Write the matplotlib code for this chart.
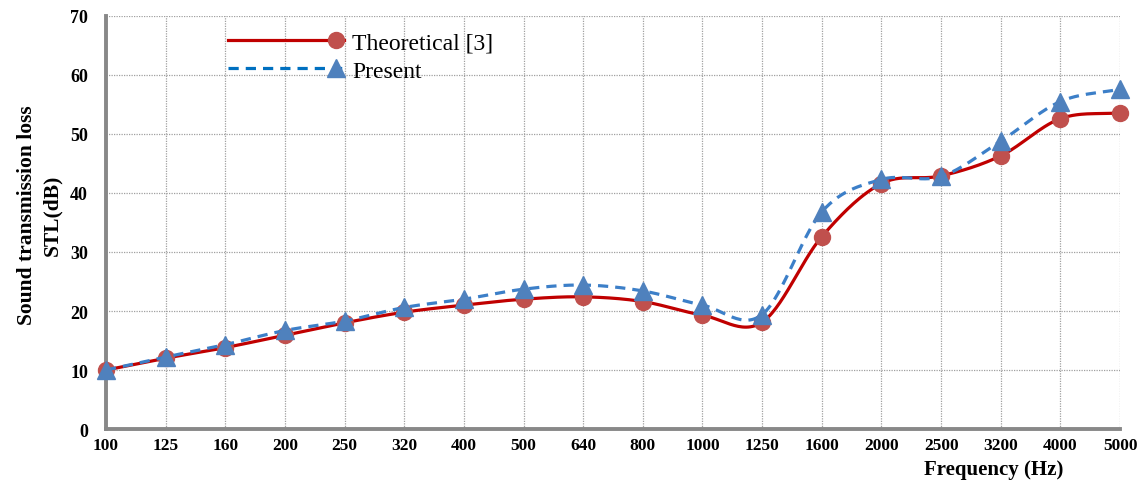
import numpy as np
import matplotlib
matplotlib.use("Agg")
import matplotlib.pyplot as plt
from matplotlib.legend_handler import HandlerLine2D

freq_labels = ["100", "125", "160", "200", "250", "320", "400", "500", "640",
               "800", "1000", "1250", "1600", "2000", "2500", "3200", "4000", "5000"]
theoretical = [10.0, 12.0, 13.8, 15.9, 18.0, 19.8, 21.0, 22.0, 22.4,
               21.6, 19.3, 18.1, 32.6, 41.6, 42.9, 46.3, 52.6, 53.6]
present = [10.0, 12.2, 14.3, 16.7, 18.3, 20.6, 22.0, 23.7, 24.4,
           23.4, 21.0, 19.4, 36.8, 42.3, 42.8, 48.8, 55.5, 57.6]

plt.rcParams['font.family'] = ['Liberation Serif', 'DejaVu Serif']


def smooth(x, y, n=30, tension=0.5):
    """Catmull-Rom style smoothing through the points (like Excel smoothed lines)."""
    x = np.asarray(x, float)
    y = np.asarray(y, float)
    px = np.concatenate([[2 * x[0] - x[1]], x, [2 * x[-1] - x[-2]]])
    py = np.concatenate([[2 * y[0] - y[1]], y, [2 * y[-1] - y[-2]]])
    xs, ys = [], []
    for i in range(1, len(px) - 2):
        p0, p1, p2, p3 = (np.array([px[j], py[j]]) for j in range(i - 1, i + 3))
        m1 = tension * (p2 - p0)
        m2 = tension * (p3 - p1)
        t = np.linspace(0, 1, n, endpoint=(i == len(px) - 3))
        h00 = 2 * t**3 - 3 * t**2 + 1
        h10 = t**3 - 2 * t**2 + t
        h01 = -2 * t**3 + 3 * t**2
        h11 = t**3 - t**2
        pts = (np.outer(h00, p1) + np.outer(h10, m1) + np.outer(h01, p2) + np.outer(h11, m2))
        xs.append(pts[:, 0])
        ys.append(pts[:, 1])
    return np.concatenate(xs), np.concatenate(ys)


class EndMarkerHandler(HandlerLine2D):
    def get_xdata(self, legend, xdescent, ydescent, width, height, fontsize):
        xdata = np.array([-xdescent, -xdescent + width * 0.93, -xdescent + width])
        return xdata, xdata

    def create_artists(self, *args, **kwargs):
        artists = super().create_artists(*args, **kwargs)
        for a in artists:
            a.set_markevery([1])
        return artists


fig = plt.figure(figsize=(11.47, 4.81), dpi=100)
ax = fig.add_axes([0.0924, 0.106, 0.8841, 0.8587])

x = np.arange(len(freq_labels))

red_line = "#C00000"
red_mark = "#C0504D"
blue_line = "#3C7FC8"
blue_mark = "#4F81BD"

sx, sy = smooth(x, theoretical)
ax.plot(sx, sy, color=red_line, lw=2.3, zorder=3)
ax.plot(x, theoretical, ls="none", marker="o", ms=11.5, color=red_mark,
        mec=red_mark, zorder=4, clip_on=False)

px_, py_ = smooth(x, present)
ax.plot(px_, py_, color=blue_line, lw=2.3, ls=(0, (3.2, 2.2)), zorder=5)
ax.plot(x, present, ls="none", marker="^", ms=12.5, color=blue_mark,
        mec=blue_mark, zorder=6, clip_on=False)

# legend proxies
h1, = ax.plot([], [], color=red_line, lw=2.3, marker="o", ms=11.5,
              mfc=red_mark, mec=red_mark)
h2, = ax.plot([], [], color="#0070C0", lw=2.3, ls=(0, (3.2, 2.2)), marker="^", ms=12.5,
              mfc=blue_mark, mec=blue_mark)
leg = ax.legend([h1, h2], ["Theoretical [3]", "Present"],
                handler_map={h1: EndMarkerHandler(numpoints=2), h2: EndMarkerHandler(numpoints=2)},
                loc="upper left", bbox_to_anchor=(0.111, 0.985), frameon=False,
                fontsize=17, handlelength=4.9, handletextpad=0.35,
                labelspacing=0.3, borderaxespad=0)

ax.set_xlim(0, len(freq_labels) - 1)
ax.set_ylim(0, 70)
ax.set_yticks(np.arange(0, 71, 10))
ax.set_xticks(x)
ax.set_xticklabels(freq_labels)

for lab in ax.get_xticklabels():
    lab.set_fontweight("bold")
    lab.set_fontsize(12.5)
for lab in ax.get_yticklabels():
    lab.set_fontweight("bold")
    lab.set_fontsize(13)

ax.tick_params(axis="x", length=0, pad=6)
ax.tick_params(axis="y", length=0, pad=13)

ax.grid(True, color="#A0A0A0", ls=(0, (1, 1)), lw=0.9)
ax.set_axisbelow(True)

for s in ["top", "right"]:
    ax.spines[s].set_visible(False)
for s in ["left", "bottom"]:
    ax.spines[s].set_color("#888888")
    ax.spines[s].set_linewidth(2.8)

ax.set_xlabel("Frequency (Hz)", fontsize=15, fontweight="bold", va="center")
ax.xaxis.set_label_coords(0.875, -0.097)
ax.set_ylabel("Sound transmission loss\nSTL(dB)", fontsize=15.5, fontweight="bold",
              linespacing=1.35)
ax.yaxis.set_label_coords(-0.043, 0.52)

fig.savefig("out.png", dpi=100)
